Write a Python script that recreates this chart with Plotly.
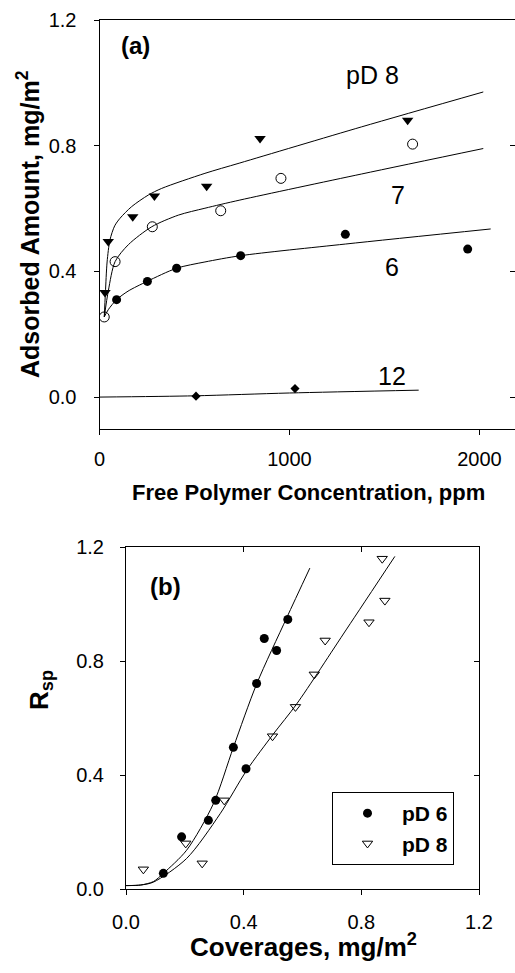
import plotly.graph_objects as go

FONT = "Liberation Sans, Arial, sans-serif"

# ---- Panel (a): adsorbed amount vs free polymer concentration ----
conc_pd8 = [29, 46, 175, 289, 564, 845, 1622]
ads_pd8 = [0.333, 0.495, 0.574, 0.640, 0.671, 0.823, 0.881]
conc_pd7 = [25, 82, 278, 638, 955, 1648]
ads_pd7 = [0.255, 0.431, 0.542, 0.593, 0.696, 0.805]
conc_pd6 = [90, 252, 406, 743, 1294, 1938]
ads_pd6 = [0.310, 0.368, 0.410, 0.450, 0.518, 0.471]
conc_pd12 = [508, 1029]
ads_pd12 = [0.003, 0.027]

# fitted isotherm curves
fit8_x = [25, 31, 40, 55, 80, 108, 169, 257, 327, 555, 739, 1380, 2020]
fit8_y = [0.255, 0.331, 0.43, 0.50, 0.545, 0.569, 0.606, 0.643, 0.664, 0.712, 0.745, 0.860, 0.971]
fit7_x = [25, 47, 82, 152, 275, 415, 555, 739, 1380, 2020]
fit7_y = [0.255, 0.34, 0.431, 0.485, 0.542, 0.579, 0.601, 0.627, 0.710, 0.791]
fit6_x = [25, 46, 90, 150, 250, 406, 555, 743, 1294, 2059]
fit6_y = [0.255, 0.278, 0.310, 0.337, 0.368, 0.410, 0.430, 0.450, 0.487, 0.535]
fit12_x = [0, 500, 1000, 1680]
fit12_y = [0.0, 0.004, 0.013, 0.022]

curve_labels = ["pD 8", "7", "6", "12"]
label_x = [1438, 1573, 1538, 1538]
label_y = [1.025, 0.644, 0.413, 0.067]

# ---- Panel (b): Rsp vs coverage ----
cov_pd6 = [0.127, 0.189, 0.280, 0.305, 0.365, 0.408, 0.444, 0.470, 0.512, 0.550]
rsp_pd6 = [0.055, 0.183, 0.241, 0.311, 0.497, 0.422, 0.721, 0.879, 0.837, 0.946]
cov_pd8 = [0.059, 0.203, 0.259, 0.334, 0.498, 0.576, 0.640, 0.677, 0.826, 0.880, 0.871]
rsp_pd8 = [0.069, 0.160, 0.090, 0.311, 0.536, 0.639, 0.753, 0.872, 0.936, 1.012, 1.159]

fitb6_x = [0.0, 0.05, 0.093, 0.127, 0.206, 0.297, 0.365, 0.444, 0.546, 0.625]
fitb6_y = [0.012, 0.014, 0.026, 0.055, 0.136, 0.299, 0.497, 0.719, 0.951, 1.126]
fitb8_x = [0.0, 0.05, 0.093, 0.206, 0.320, 0.410, 0.501, 0.580, 0.750, 0.914]
fitb8_y = [0.012, 0.014, 0.024, 0.107, 0.264, 0.416, 0.544, 0.649, 0.912, 1.167]

W, H = 515, 973


def px_x(p):
    return p / W


def px_y(p):
    return (H - p) / H


fig = go.Figure()
line_style = dict(color="black", width=1)

# panel (a) curves
for fx, fy in [(fit8_x, fit8_y), (fit7_x, fit7_y), (fit6_x, fit6_y), (fit12_x, fit12_y)]:
    fig.add_trace(go.Scatter(x=fx, y=fy, mode="lines", line=dict(shape="spline", smoothing=0.8, **line_style),
                             xaxis="x", yaxis="y", showlegend=False, hoverinfo="skip"))

fig.add_trace(go.Scatter(x=conc_pd8, y=ads_pd8, mode="markers", xaxis="x", yaxis="y", showlegend=False,
                         marker=dict(symbol="triangle-down", size=10, color="black")))
fig.add_trace(go.Scatter(x=conc_pd7, y=ads_pd7, mode="markers", xaxis="x", yaxis="y", showlegend=False,
                         marker=dict(symbol="circle-open", size=10, color="black", line=dict(width=1))))
fig.add_trace(go.Scatter(x=conc_pd6, y=ads_pd6, mode="markers", xaxis="x", yaxis="y", showlegend=False,
                         marker=dict(symbol="circle", size=9, color="black")))
fig.add_trace(go.Scatter(x=conc_pd12, y=ads_pd12, mode="markers", xaxis="x", yaxis="y", showlegend=False,
                         marker=dict(symbol="diamond", size=7, color="black")))

# panel (b) curves
for fx, fy in [(fitb6_x, fitb6_y), (fitb8_x, fitb8_y)]:
    fig.add_trace(go.Scatter(x=fx, y=fy, mode="lines", line=dict(shape="spline", smoothing=0.8, **line_style),
                             xaxis="x3", yaxis="y3", showlegend=False, hoverinfo="skip"))

fig.add_trace(go.Scatter(x=cov_pd6, y=rsp_pd6, mode="markers", xaxis="x3", yaxis="y3", name="pD 6",
                         marker=dict(symbol="circle", size=9, color="black")))
fig.add_trace(go.Scatter(x=cov_pd8, y=rsp_pd8, mode="markers", xaxis="x3", yaxis="y3", name="pD 8",
                         marker=dict(symbol="triangle-down-open", size=9, color="black", line=dict(width=1))))

tickfont = dict(family=FONT, size=20, color="black")
base_axis = dict(showgrid=False, zeroline=False, showline=True, linecolor="black", linewidth=1,
                 ticks="outside", ticklen=5, tickwidth=1, tickcolor="black", tickfont=tickfont,
                 automargin=False)

dom_a_x = [px_x(99.5), 1.0]
dom_a_y = [px_y(428.5), px_y(20)]
dom_b_x = [px_x(126), px_x(479)]
dom_b_y = [px_y(889), px_y(547)]

a_xrange = [0, 2187]
a_yrange = [-0.1, 1.2]
b_range = [0, 1.2]

overlay_common = dict(showticklabels=False, showgrid=False, zeroline=False, ticks="inside",
                      ticklen=5, tickwidth=1, tickcolor="black", automargin=False)

fig.update_layout(
    width=W, height=H, autosize=False,
    margin=dict(l=0, r=0, t=0, b=0, pad=0, autoexpand=False),
    paper_bgcolor="white", plot_bgcolor="white",
    font=dict(family=FONT, color="black"),
    xaxis=dict(base_axis, domain=dom_a_x, range=a_xrange, tickvals=[0, 1000, 2000], anchor="y",
               mirror=True, ticklabelstandoff=7),
    yaxis=dict(base_axis, domain=dom_a_y, range=a_yrange, tickvals=[0.0, 0.4, 0.8, 1.2],
               tickformat=".1f", anchor="x", ticklabelstandoff=13),
    yaxis2=dict(overlay_common, overlaying="y", side="right", anchor="x", range=a_yrange,
                tickvals=[0.0, 0.4, 0.8], showline=False),
    xaxis3=dict(base_axis, domain=dom_b_x, range=b_range, tickvals=[0.0, 0.4, 0.8, 1.2],
                tickformat=".1f", anchor="y3", ticklabelstandoff=10),
    yaxis3=dict(base_axis, domain=dom_b_y, range=b_range, tickvals=[0.0, 0.4, 0.8, 1.2],
                tickformat=".1f", anchor="x3", ticklabelstandoff=12),
    xaxis4=dict(overlay_common, overlaying="x3", side="top", anchor="y3", range=b_range,
                tickvals=[0.4, 0.8], showline=True, linecolor="black", linewidth=1),
    yaxis4=dict(overlay_common, overlaying="y3", side="right", anchor="x3", range=b_range,
                tickvals=[0.4, 0.8], showline=True, linecolor="black", linewidth=1),
    legend=dict(x=px_x(332), y=px_y(792), xanchor="left", yanchor="top",
                bordercolor="black", borderwidth=1, bgcolor="white",
                font=dict(family=FONT, size=21, color="black", weight="bold"),
                itemwidth=59, tracegroupgap=0),
    showlegend=True,
)

# empty traces so the overlay axes are drawn
fig.add_trace(go.Scatter(x=[None], y=[None], xaxis="x", yaxis="y2", showlegend=False, hoverinfo="skip"))
fig.add_trace(go.Scatter(x=[None], y=[None], xaxis="x4", yaxis="y4", showlegend=False, hoverinfo="skip"))

annotations = []
for txt, lx, ly in zip(curve_labels, label_x, label_y):
    annotations.append(dict(x=lx, y=ly, xref="x", yref="y", text=txt, showarrow=False,
                            xanchor="center", yanchor="middle",
                            font=dict(family=FONT, size=25, color="black")))
annotations.append(dict(x=190, y=1.119, xref="x", yref="y", text="<b>(a)</b>", showarrow=False,
                        xanchor="center", yanchor="middle",
                        font=dict(family=FONT, size=24, color="black")))
annotations.append(dict(x=0.134, y=1.062, xref="x3", yref="y3", text="<b>(b)</b>", showarrow=False,
                        xanchor="center", yanchor="middle",
                        font=dict(family=FONT, size=24, color="black")))
annotations.append(dict(x=px_x(28), y=px_y(224), xref="paper", yref="paper", textangle=-90,
                        xanchor="center", yanchor="middle",
                        text="<b>Adsorbed Amount, mg/m<sup>2</sup></b>", showarrow=False,
                        font=dict(family=FONT, size=25, color="black")))
annotations.append(dict(x=px_x(308.5), y=px_y(492), xref="paper", yref="paper",
                        xanchor="center", yanchor="middle",
                        text="<b>Free Polymer Concentration, ppm</b>", showarrow=False,
                        font=dict(family=FONT, size=22, color="black")))
annotations.append(dict(x=px_x(40), y=px_y(690), xref="paper", yref="paper", textangle=-90,
                        xanchor="center", yanchor="middle",
                        text="<b>R<sub>sp</sub></b>", showarrow=False,
                        font=dict(family=FONT, size=26, color="black")))
annotations.append(dict(x=px_x(303), y=px_y(945), xref="paper", yref="paper",
                        xanchor="center", yanchor="middle",
                        text="<b>Coverages, mg/m<sup>2</sup></b>", showarrow=False,
                        font=dict(family=FONT, size=26, color="black")))
fig.update_layout(annotations=annotations)

fig.write_html("out.html")
